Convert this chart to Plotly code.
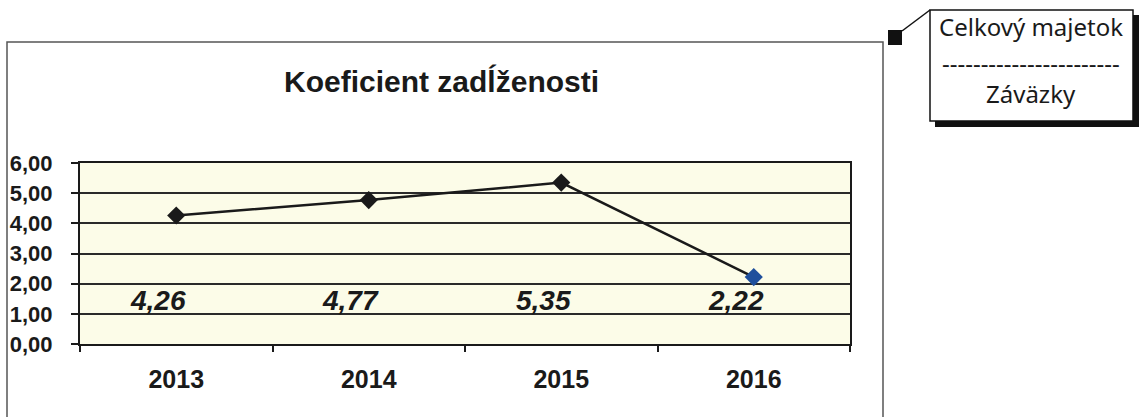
import plotly.graph_objects as go

# data
years = ["2013", "2014", "2015", "2016"]
ratio = [4.26, 4.77, 5.35, 2.22]
y_ticks = [0, 1, 2, 3, 4, 5, 6]

title = "Koeficient zadĺženosti"
note_top = "Celkový majetok"
note_bottom = "Záväzky"

W, H = 1139, 417
L, R, T, B = 80, 850, 163, 344   # plot area in pixels
LABEL_Y = 1.45                   # data labels sit low, near the 1,5 line
FONT = "Liberation Sans, Arial, sans-serif"


def xp(px):
    return (px - L) / (R - L)


def yp(py):
    return (B - py) / (B - T)


fig = go.Figure()

fig.add_trace(go.Scatter(
    x=years,
    y=ratio,
    mode="lines+markers",
    line=dict(color="#1a1a1a", width=2.5),
    marker=dict(symbol="diamond", size=14,
                color=["#1a1a1a", "#1a1a1a", "#1a1a1a", "#1f4f9c"]),
    cliponaxis=False,
    hoverinfo="skip",
))

# value labels (category axis -> use the index position)
for i, v in enumerate(ratio):
    fig.add_annotation(
        x=i, y=LABEL_Y, xref="x", yref="y",
        text=f"{v:.2f}".replace(".", ","),
        showarrow=False, xshift=-18,
        font=dict(family=FONT, size=28, color="#1a1a1a",
                  style="italic", weight="bold"),
    )

fig.add_annotation(
    text=f"<b>{title}</b>", xref="paper", yref="paper",
    x=xp(441), y=yp(81), xanchor="center", yanchor="middle",
    showarrow=False,
    font=dict(family=FONT, size=30, color="#1a1a1a"),
)

# callout box top right
fig.add_shape(type="rect", xref="paper", yref="paper",
              x0=xp(935), y0=yp(15), x1=xp(1139), y1=yp(127),
              fillcolor="#111", line=dict(width=0))
fig.add_shape(type="rect", xref="paper", yref="paper",
              x0=xp(930), y0=yp(10), x1=xp(1133), y1=yp(121),
              fillcolor="white", line=dict(color="#111", width=1.5))
fig.add_shape(type="rect", xref="paper", yref="paper",
              x0=xp(888), y0=yp(30), x1=xp(902), y1=yp(45),
              fillcolor="#111", line=dict(width=0))
fig.add_shape(type="line", xref="paper", yref="paper",
              x0=xp(902), y0=yp(31), x1=xp(930), y1=yp(10),
              line=dict(color="#111", width=1.5))
for txt, py in [(note_top, 27), ("-" * 23, 62), (note_bottom, 93)]:
    fig.add_annotation(
        text=txt, xref="paper", yref="paper",
        x=xp(1031), y=yp(py), xanchor="center", yanchor="middle",
        showarrow=False,
        font=dict(family="Noto Sans, sans-serif", size=24, color="#1a1a1a"),
    )

# outer chart frame (bottom edge runs off the scan)
fig.add_shape(type="rect", xref="paper", yref="paper",
              x0=xp(7), y0=yp(430), x1=xp(883), y1=yp(42),
              line=dict(color="#555", width=1.5), fillcolor="rgba(0,0,0,0)")

fig.update_layout(
    width=W, height=H,
    margin=dict(l=L, r=W - R, t=T, b=H - B, autoexpand=False),
    paper_bgcolor="white",
    plot_bgcolor="#fcfce8",
    separators=", ",
    showlegend=False,
    font=dict(family=FONT, color="#1a1a1a"),
    xaxis=dict(
        type="category", range=[-0.5, 3.5], automargin=False,
        tickson="boundaries", ticks="outside", ticklen=6, tickwidth=1.5,
        tickcolor="#1a1a1a", ticklabelstandoff=12,
        showline=True, linecolor="#1a1a1a", linewidth=2, mirror=True,
        showgrid=False, zeroline=False,
        tickfont=dict(size=25, weight="bold"),
    ),
    yaxis=dict(
        range=[0, 6], tickvals=y_ticks, tickformat=".2f", automargin=False,
        ticks="outside", ticklen=7, tickwidth=1.5, tickcolor="#1a1a1a",
        ticklabelstandoff=14,
        showline=True, linecolor="#1a1a1a", linewidth=2, mirror=True,
        showgrid=True, gridcolor="#2a2a2a", gridwidth=1.5, zeroline=False,
        tickfont=dict(size=22, weight="bold"),
    ),
)

# the page body has a default 8px margin; drop it so the figure sits at 0,0
fig.write_html("out.html", config={"displayModeBar": False},
               post_script="document.body.style.margin='0';")
